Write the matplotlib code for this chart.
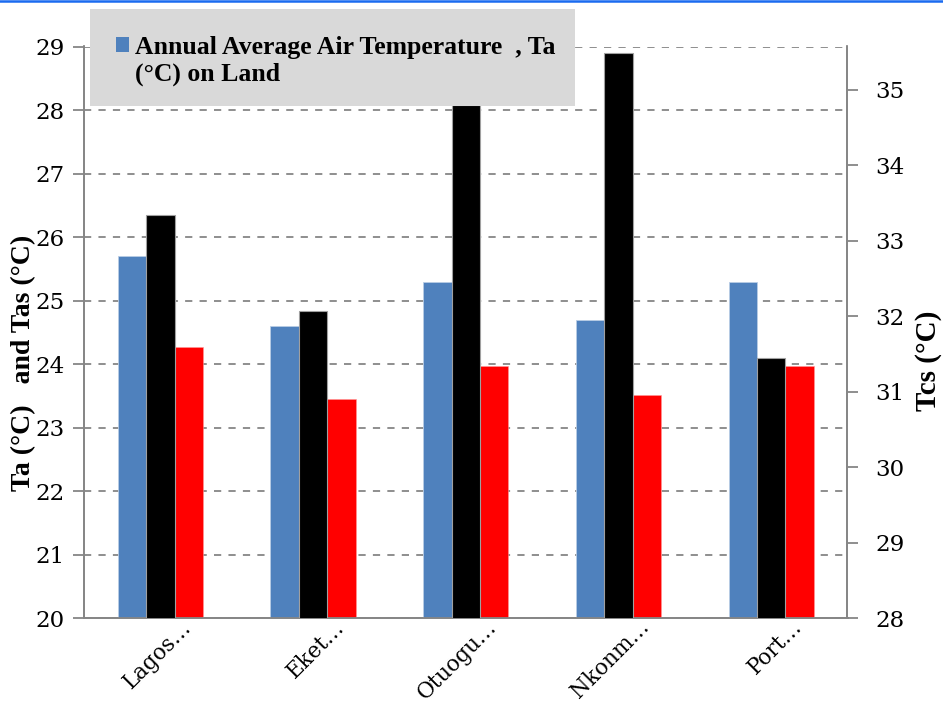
import matplotlib
matplotlib.use("Agg")
import matplotlib.pyplot as plt
import numpy as np
from matplotlib.patches import Rectangle, Patch
from matplotlib.lines import Line2D
from matplotlib.transforms import ScaledTranslation
from matplotlib.legend_handler import HandlerPatch

# ---- data ----
categories = ["Lagos…", "Eket…", "Otuogu…", "Nkonm…", "Port…"]
ta_land = [25.7, 24.6, 25.3, 24.7, 25.3]      # blue, left axis
tcs = [33.34, 32.07, 34.79, 35.49, 31.45]     # black, right axis
tas = [24.27, 23.45, 23.97, 23.52, 23.97]     # red, left axis
left_ticks = list(range(20, 30))
right_ticks = list(range(28, 36))
legend_label = "Annual Average Air Temperature  , Ta\n(°C) on Land"

BLUE = "#4F81BD"
RED = "#FF0000"
BLACK = "#000000"
GREY = "#868686"
TICKFONT = "DejaVu Serif"
BOLDFONT = "Liberation Serif"

W, H = 943, 704
fig = plt.figure(figsize=(W / 100, H / 100), dpi=100)
ax = fig.add_axes([84 / W, 1 - 618.3 / H, (847.5 - 84) / W, (618.3 - 46.5) / H])
ax2 = ax.twinx()

x = np.arange(len(categories))
bw = 0.186
ax.bar(x - bw, ta_land, bw, color=BLUE, edgecolor="#B9CDE5", linewidth=0.6, zorder=3)
ax.bar(x + bw, tas, bw, color=RED, edgecolor="#FF9999", linewidth=0.4, zorder=3)
ax2.bar(x, tcs, bw, color=BLACK, edgecolor="#A0A0A0", linewidth=0.8, zorder=3)

ax.set_xlim(-0.5, len(categories) - 0.5)
ax.set_ylim(20, 29)
ax2.set_ylim(28, 35.57)
ax.set_yticks(left_ticks)
ax2.set_yticks(right_ticks)

ax.yaxis.grid(True, color=GREY, linestyle=(0, (4, 4)), linewidth=1.3, zorder=0)
ax.set_axisbelow(True)

for a in (ax, ax2):
    for s in a.spines.values():
        s.set_color(GREY)
        s.set_linewidth(1.3)
    a.spines["top"].set_visible(False)
ax.tick_params(axis="y", direction="out", length=8, width=1.3, color=GREY,
               labelsize=16.5, pad=6)
ax2.tick_params(axis="y", direction="out", length=8, width=1.3, color=GREY,
                labelsize=16.5, pad=12)
ax.tick_params(axis="x", length=0, pad=4)
for lab in ax.get_yticklabels() + ax2.get_yticklabels():
    lab.set_fontfamily(TICKFONT)

ax.set_xticks(x)
ax.set_xticklabels(categories, rotation=45, ha="right", rotation_mode="anchor",
                   fontfamily=TICKFONT, fontsize=15.5)
for lab in ax.get_xticklabels():
    lab.set_transform(lab.get_transform() + ScaledTranslation(0.20, 0.08, fig.dpi_scale_trans))

fig.text(24 / W, 1 - 363 / H, "Ta (°C)   and Tas (°C)", rotation=90, ha="center",
         va="center", fontfamily=BOLDFONT, fontweight="bold", fontsize=20)
fig.text(929 / W, 1 - 361 / H, "Tcs (°C)", rotation=90, ha="center",
         va="center", fontfamily=BOLDFONT, fontweight="bold", fontsize=21)

# legend box
fig.patches.append(Rectangle((90 / W, 1 - 106 / H), (575 - 90) / W, (106 - 9) / H,
                             transform=fig.transFigure, facecolor="#D9D9D9",
                             edgecolor="none", zorder=4))


def top_patch(legend, orig_handle, xdescent, ydescent, width, height, fontsize):
    return Rectangle((-xdescent, -ydescent + 0.62 * fontsize), width, height)


leg = fig.legend(handles=[Patch(facecolor=BLUE, edgecolor="none")], labels=[legend_label],
                 loc="upper left", bbox_to_anchor=(116 / W, 1 - 36 / H),
                 frameon=False, handlelength=0.52, handleheight=0.52, handletextpad=0.22,
                 prop={"family": BOLDFONT, "weight": "bold", "size": 18.5},
                 borderpad=0, borderaxespad=0, labelspacing=0,
                 handler_map={Patch: HandlerPatch(patch_func=top_patch)})
leg.set_zorder(5)

# thin blue line at the very top
fig.add_artist(Line2D([0, 1], [1 - 1 / H, 1 - 1 / H], transform=fig.transFigure,
                      color="#1A6BF0", linewidth=1.8))

fig.savefig("out.png", dpi=100)
